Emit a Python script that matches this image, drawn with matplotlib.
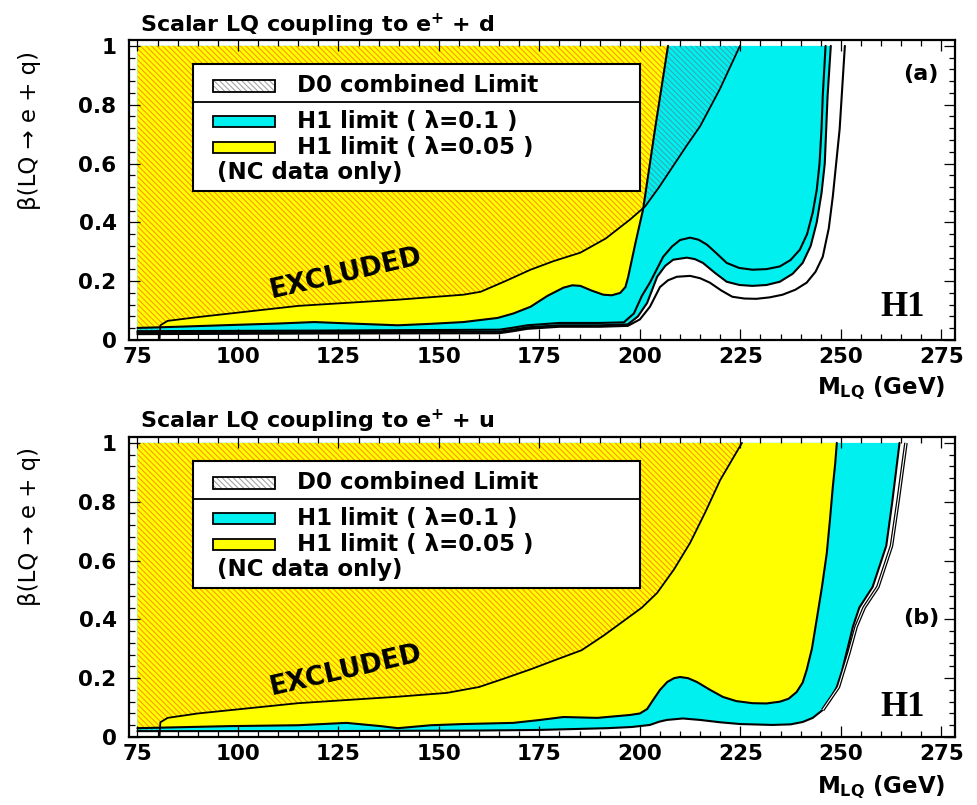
import numpy as np
import matplotlib
matplotlib.use("Agg")
import matplotlib.pyplot as plt
from matplotlib.patches import Polygon, Rectangle
from matplotlib.ticker import MultipleLocator, FuncFormatter

plt.rcParams['font.family'] = ['DejaVu Sans']
plt.rcParams['mathtext.fontset'] = 'dejavusans'
plt.rcParams['hatch.linewidth'] = 0.75

# ---------------- panel (a): scalar LQ -> e+ d ----------------
a_d0_m = [80.5, 80.7, 82.5, 90.1, 115.0, 139.8, 156.1, 160.4, 166.5, 172.8, 178.5, 185.2, 191.5, 197.6, 201.3,
          204.8, 208.2, 211.6, 215.0, 219.9, 224.9]
a_d0_b = [0.0, 0.05, 0.065, 0.078, 0.116, 0.137, 0.154, 0.164, 0.2, 0.239, 0.268, 0.297, 0.345, 0.41, 0.454,
          0.52, 0.59, 0.66, 0.727, 0.853, 1.0]

a_y05_m = [75, 85, 98.3, 110, 119, 130, 139.8, 148, 156.1, 164.6, 168.5, 172.8, 177, 181, 183.2, 185.2, 188, 190.9,
           193, 195.1, 196.4, 197.1, 198.9, 200.8, 203.8, 207.0]
a_y05_b = [0.041, 0.045, 0.051, 0.056, 0.061, 0.055, 0.05, 0.055, 0.061, 0.075, 0.09, 0.113, 0.15, 0.178, 0.186,
           0.184, 0.168, 0.154, 0.152, 0.16, 0.18, 0.215, 0.33, 0.444, 0.72, 1.0]

a_l1_m = [75, 120, 165, 168.5, 172, 180, 190, 196, 198.5, 200.5, 202.5, 205.8, 208, 210, 212.5, 214.6, 216.7, 219.2,
          221.6, 224.7, 228, 231.5, 234.8, 237.5, 239.8, 241.6, 243, 244.0, 244.7, 245.2, 245.5, 246.2]
a_l1_b = [0.03, 0.032, 0.035, 0.042, 0.05, 0.058, 0.058, 0.06, 0.09, 0.15, 0.195, 0.283, 0.318, 0.34, 0.348, 0.341,
          0.324, 0.293, 0.262, 0.245, 0.239, 0.241, 0.25, 0.272, 0.307, 0.36, 0.433, 0.51, 0.6, 0.72, 0.83, 1.0]

a_l2_m = [75, 120, 165, 168.5, 172, 180, 190, 197, 199.5, 201.8, 204.3, 206.3, 208.3, 211.7, 213.7, 215.7, 218.7,
          221.6, 224.8, 228, 231.5, 234.8, 238, 240.5, 242.5, 244, 245.2, 246, 246.7, 247.5]
a_l2_b = [0.025, 0.027, 0.028, 0.035, 0.043, 0.05, 0.05, 0.053, 0.08, 0.126, 0.215, 0.252, 0.273, 0.28, 0.275,
          0.262, 0.228, 0.198, 0.187, 0.184, 0.187, 0.198, 0.225, 0.262, 0.32, 0.4, 0.5, 0.6, 0.83, 1.0]

a_l3_m = [75, 120, 165, 168.5, 172, 180, 190, 197, 200, 202.5, 205, 207, 209.2, 212.5, 215, 217.4, 220.3, 223, 226,
          229, 232.3, 235.5, 238.7, 241.5, 243.7, 245.5, 247, 248, 249.7, 251]
a_l3_b = [0.02, 0.022, 0.023, 0.03, 0.038, 0.045, 0.045, 0.048, 0.07, 0.113, 0.18, 0.203, 0.215, 0.218, 0.21, 0.195,
          0.168, 0.147, 0.141, 0.14, 0.145, 0.154, 0.171, 0.195, 0.232, 0.283, 0.38, 0.488, 0.717, 1.0]

# ---------------- panel (b): scalar LQ -> e+ u ----------------
b_d0_m = [80.5, 80.7, 82.5, 90, 115, 139.8, 152, 160, 166.5, 172.8, 179, 185.5, 191, 196.5, 200.5, 204.3, 208.5,
          212.5, 216.3, 220, 225.4]
b_d0_b = [0.0, 0.05, 0.065, 0.08, 0.115, 0.137, 0.15, 0.17, 0.2, 0.23, 0.262, 0.295, 0.345, 0.40, 0.44, 0.49, 0.57,
          0.66, 0.765, 0.874, 1.0]

b_y05_m = [75, 98, 115, 127, 135.5, 139.8, 148, 156, 168.5, 175.2, 181, 189.4, 197.6, 200, 201.8, 203.3, 205, 206.8,
           208.5, 210, 212, 214.2, 217.5, 220.7, 224, 228, 231.5, 234.8, 237, 239, 240.5, 241.5, 242.8, 244, 245.3,
           246.5, 247.3, 248, 248.6, 249]
b_y05_b = [0.03, 0.037, 0.04, 0.048, 0.037, 0.03, 0.04, 0.044, 0.048, 0.058, 0.068, 0.065, 0.075, 0.08, 0.095, 0.126,
           0.16, 0.187, 0.2, 0.204, 0.2, 0.187, 0.16, 0.136, 0.122, 0.115, 0.114, 0.12, 0.13, 0.153, 0.185, 0.228,
           0.3, 0.40, 0.51, 0.625, 0.74, 0.85, 0.93, 1.0]

b_c01_m = [75, 120, 160, 175, 191.9, 198, 202.5, 204.8, 206.7, 210.7, 215, 220, 225, 233, 237.5, 240.5, 243, 245.5,
           247.3, 249, 250.3, 251.4, 252.2, 253, 254.6, 257.9, 261.3, 262.8, 264.6]
b_c01_b = [0.02, 0.02, 0.022, 0.024, 0.03, 0.034, 0.041, 0.052, 0.058, 0.063, 0.058, 0.05, 0.044, 0.041, 0.043, 0.051,
           0.065, 0.092, 0.125, 0.17, 0.225, 0.286, 0.33, 0.375, 0.44, 0.51, 0.65, 0.80, 1.0]

b_out_m = [245.5, 249.4, 252.0, 253.8, 255.8, 259.2, 262.6, 264.2, 266.2]
b_out_b = [0.092, 0.17, 0.286, 0.375, 0.44, 0.51, 0.65, 0.80, 1.0]

x_ticks_major, x_ticks_minor = 25, 5
y_ticks_major, y_ticks_minor = 0.2, 0.04

legend_labels = ["D0 combined Limit", "H1 limit ( λ=0.1 )", "H1 limit ( λ=0.05 )", "(NC data only)"]

YELLOW = "#FFFF00"
ORANGE = "#FF9400"
CYAN = "#00F0F0"
TEAL = "#35A8B0"
HATCH = '\\\\\\\\\\\\'

W, H = 977, 805
fig = plt.figure(figsize=(W / 100, H / 100), dpi=100)


def region(m, b, top=1.0, left=75.0):
    pts = list(zip(m, b)) + [(left, top)]
    return np.array(pts)


def draw_panel(ax, d0, yel, cyan_edge, extra_lines, outer=None):
    ax.set_xlim(72.9, 278.4)
    ax.set_ylim(0, 1.02)

    cyan_poly = Polygon(region(*cyan_edge), closed=True, facecolor=CYAN, edgecolor='none', zorder=1)
    ax.add_patch(cyan_poly)
    d0_pts = np.vstack([[[75.0, 0.0]], region(*d0)])
    teal_h = Polygon(d0_pts, closed=True, facecolor='none', edgecolor=TEAL, hatch=HATCH, lw=0, zorder=1.1)
    ax.add_patch(teal_h)
    teal_h.set_clip_path(cyan_poly)

    yel_poly = Polygon(region(*yel), closed=True, facecolor=YELLOW, edgecolor='none', zorder=1.2)
    ax.add_patch(yel_poly)
    org_h = Polygon(d0_pts, closed=True, facecolor='none', edgecolor=ORANGE, hatch=HATCH, lw=0, zorder=1.3)
    ax.add_patch(org_h)
    org_h.set_clip_path(yel_poly)

    kw = dict(color='black', zorder=2, solid_joinstyle='round', solid_capstyle='round')
    for m, b in [yel, cyan_edge] + extra_lines:
        ax.plot(m, b, lw=1.5, **kw)
    ax.plot(*d0, lw=1.3, **kw)
    if outer is not None:
        ax.plot(*outer, color='black', lw=2.6, zorder=2, solid_capstyle='butt', solid_joinstyle='round')
        ax.plot(*outer, color='white', lw=0.8, zorder=2.1, solid_capstyle='butt', solid_joinstyle='round')

    ax.xaxis.set_major_locator(MultipleLocator(x_ticks_major))
    ax.xaxis.set_minor_locator(MultipleLocator(x_ticks_minor))
    ax.yaxis.set_major_locator(MultipleLocator(y_ticks_major))
    ax.yaxis.set_minor_locator(MultipleLocator(y_ticks_minor))
    ax.yaxis.set_major_formatter(FuncFormatter(lambda v, p: f"{v:g}"))
    ax.tick_params(which='both', direction='in', top=True, right=True, width=0.9)
    ax.tick_params(which='major', length=8)
    ax.tick_params(which='minor', length=4)
    ax.tick_params(axis='y', pad=9, labelsize=15.5)
    ax.tick_params(axis='x', pad=5, labelsize=15.5)
    for lab in ax.get_xticklabels() + ax.get_yticklabels():
        lab.set_fontweight('bold')
    for s in ax.spines.values():
        s.set_linewidth(1.6)
        s.set_zorder(5)

    # legend box
    tr = ax.transAxes
    ax.add_patch(Rectangle((0.0777, 0.497), 0.5413, 0.423, transform=tr, facecolor='white',
                           edgecolor='black', lw=1.5, zorder=6))
    ax.plot([0.0777, 0.619], [0.793, 0.793], transform=tr, color='black', lw=1.3, zorder=7)
    ax.add_patch(Rectangle((0.102, 0.827), 0.075, 0.04, transform=tr, facecolor='white',
                           edgecolor='#a0a0a0', hatch=HATCH, lw=0, zorder=7))
    ax.add_patch(Rectangle((0.102, 0.827), 0.075, 0.04, transform=tr, facecolor='none',
                           edgecolor='black', lw=1.3, zorder=7.1))
    ax.add_patch(Rectangle((0.102, 0.71), 0.075, 0.037, transform=tr, facecolor=CYAN,
                           edgecolor='black', lw=1.3, zorder=7))
    ax.add_patch(Rectangle((0.102, 0.623), 0.075, 0.037, transform=tr, facecolor=YELLOW,
                           edgecolor='black', lw=1.3, zorder=7))
    for (x, y), txt in zip([(0.203, 0.847), (0.203, 0.73), (0.203, 0.643), (0.106, 0.557)], legend_labels):
        ax.text(x, y, txt, transform=tr, fontsize=16.5, fontweight='bold', va='center', ha='left', zorder=8)


ax_w = 826 / W
ax_h = 300 / H
ax_a = fig.add_axes([129 / W, 1 - 340 / H, ax_w, ax_h])
ax_b = fig.add_axes([129 / W, 1 - 737 / H, ax_w, ax_h])

draw_panel(ax_a, (a_d0_m, a_d0_b), (a_y05_m, a_y05_b), (a_l2_m, a_l2_b),
           [(a_l1_m, a_l1_b), (a_l3_m, a_l3_b)])
draw_panel(ax_b, (b_d0_m, b_d0_b), (b_y05_m, b_y05_b), (b_c01_m, b_c01_b), [],
           outer=(b_out_m, b_out_b))

for ax, tag, ytag, yh1 in [(ax_a, "(a)", 0.887, 0.107), (ax_b, "(b)", 0.397, 0.10)]:
    ax.text(0.959, ytag, tag, transform=ax.transAxes, fontsize=16, fontweight='bold',
            ha='center', va='center', zorder=9)
    ax.text(0.937, yh1, "H1", transform=ax.transAxes, fontsize=25, fontweight='bold',
            family='Liberation Serif', ha='center', va='center', zorder=9)

# EXCLUDED labels
for ycen in (274, 671):
    fig.text(346 / W, 1 - ycen / H, "EXCLUDED", fontsize=19, fontweight='bold', rotation=13,
             ha='center', va='center', rotation_mode='anchor', zorder=10)

# titles
fig.text(140 / W, 1 - 32 / H, r"Scalar LQ coupling to e$^{\mathbf{+}}$ + d", fontsize=16,
         fontweight='bold', ha='left', va='baseline')
fig.text(140 / W, 1 - 428 / H, r"Scalar LQ coupling to e$^{\mathbf{+}}$ + u", fontsize=16,
         fontweight='bold', ha='left', va='baseline')

# axis titles
for yc in (130, 527):
    fig.text(30 / W, 1 - yc / H, "β(LQ → e + q)", fontsize=16.5, rotation=90,
             ha='center', va='center')
for yc in (388, 787):
    fig.text(945 / W, 1 - yc / H, r"M$_{\mathbf{LQ}}$ (GeV)", fontsize=16.5, fontweight='bold',
             ha='right', va='center')

fig.savefig("out.png", dpi=100)
